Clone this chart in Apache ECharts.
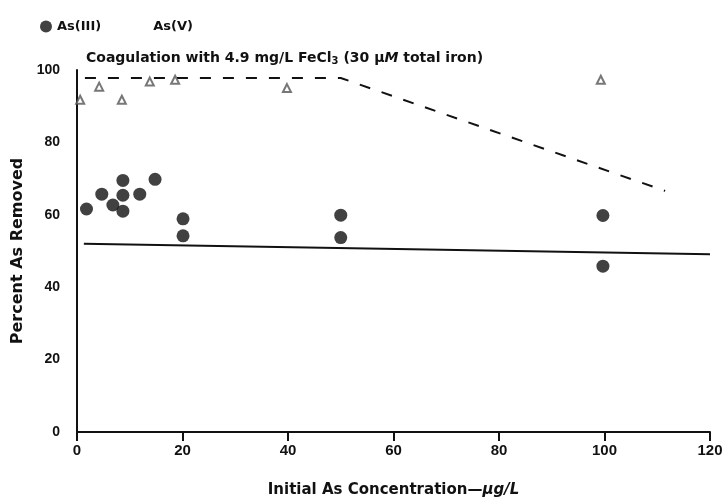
<!DOCTYPE html>
<html>
<head>
<meta charset="utf-8">
<script src="https://cdn.jsdelivr.net/npm/echarts@6/dist/echarts.min.js"></script>
<style>html,body{margin:0;padding:0;background:#fff}#c{width:726px;height:503px}</style>
</head>
<body>
<div id="c"></div>
<script>
// As(III) measured points
var as3X = [1.8, 4.7, 6.8, 8.7, 8.7, 8.7, 11.9, 14.8, 20.1, 20.1, 50, 50, 99.7, 99.7];
var as3Y = [61.6, 65.7, 62.7, 69.5, 65.4, 61.0, 65.7, 69.8, 58.9, 54.2, 59.9, 53.7, 59.8, 45.8];
// As(V) measured points
var as5X = [0.6, 4.2, 8.5, 13.8, 18.6, 39.8, 99.3];
var as5Y = [91.8, 95.4, 91.8, 96.8, 97.3, 95.0, 97.3];
// fitted lines
var fit3X = [1.3, 120];
var fit3Y = [52.0, 49.1];
var fit5X = [1.5, 50, 111.5];
var fit5Y = [97.8, 97.8, 66.6];
var xTicks = [0, 20, 40, 60, 80, 100, 120];
var yTicks = [0, 20, 40, 60, 80, 100];

function zip(a, b) { return a.map(function (v, i) { return [v, b[i]]; }); }

var FONT = 'Liberation Sans, Arial, sans-serif';
var WIDE = 'DejaVu Sans, Verdana, sans-serif';
var chart = echarts.init(document.getElementById('c'), null, { renderer: 'canvas' });
chart.setOption({
  animation: false,
  backgroundColor: '#fff',
  textStyle: { fontFamily: FONT, color: '#111' },
  title: {
    left: 81, top: 45,
    text: '{a|Coagulation with 4.9 mg/L FeCl}{s|3}{a| (30 μ}{i|M}{a| total iron)}',
    textStyle: {
      rich: {
        a: { fontFamily: WIDE, fontWeight: 'bold', fontSize: 14, color: '#111' },
        s: { fontFamily: WIDE, fontWeight: 'bold', fontSize: 10, color: '#111', padding: [6, 0, 0, 0] },
        i: { fontFamily: WIDE, fontWeight: 'bold', fontStyle: 'italic', fontSize: 14, color: '#111' }
      }
    }
  },
  legend: {
    left: 35, top: 15, itemGap: 35, itemWidth: 12, itemHeight: 12,
    textStyle: { fontFamily: WIDE, fontWeight: 'bold', fontSize: 13, color: '#111' },
    data: [
      { name: 'As(III)', icon: 'circle' },
      { name: 'As(V)', icon: 'none' }
    ]
  },
  grid: { left: 77, right: 16, top: 70, bottom: 59, containLabel: false },
  xAxis: {
    type: 'value', min: 0, max: 120, interval: 20,
    name: 'Initial As Concentration—{i|μg/L}',
    nameLocation: 'middle', nameGap: 51,
    nameTextStyle: {
      fontFamily: WIDE, fontWeight: 'bold', fontSize: 15, color: '#111',
      rich: { i: { fontFamily: WIDE, fontWeight: 'bold', fontStyle: 'italic', fontSize: 15, color: '#111' } }
    },
    axisLine: { show: true, lineStyle: { color: '#111', width: 2 } },
    axisTick: { show: true, length: 9, lineStyle: { color: '#111', width: 2 } },
    axisLabel: {
      fontFamily: FONT, fontWeight: 'bold', fontSize: 15, color: '#111', margin: 11,
      formatter: function (v) { return xTicks.indexOf(v) >= 0 ? String(v) : ''; }
    },
    splitLine: { show: false }
  },
  yAxis: {
    type: 'value', min: 0, max: 100, interval: 20,
    name: 'Percent As Removed',
    nameLocation: 'middle', nameGap: 47,
    nameTextStyle: { fontFamily: WIDE, fontWeight: 'bold', fontSize: 16, color: '#111' },
    axisLine: { show: true, lineStyle: { color: '#111', width: 2 } },
    axisTick: { show: false },
    axisLabel: {
      fontFamily: FONT, fontWeight: 'bold', fontSize: 14, color: '#111', margin: 17,
      formatter: function (v) { return yTicks.indexOf(v) >= 0 ? String(v) : ''; }
    },
    splitLine: { show: false }
  },
  series: [
    {
      name: 'As(III)', type: 'scatter', data: zip(as3X, as3Y),
      symbol: 'circle', symbolSize: 13,
      itemStyle: { color: '#111' }, z: 5
    },
    {
      name: 'As(V)', type: 'scatter', data: zip(as5X, as5Y),
      symbol: 'emptyTriangle', symbolSize: 8,
      itemStyle: { color: '#555', borderColor: '#555', borderWidth: 1.5 }, z: 5
    },
    {
      name: 'fit3', type: 'line', data: zip(fit3X, fit3Y),
      symbol: 'none', lineStyle: { color: '#111', width: 2 }
    },
    {
      name: 'fit5', type: 'line', data: zip(fit5X, fit5Y),
      symbol: 'none', lineStyle: { color: '#111', width: 2, type: [11, 12] }
    }
  ]
});
</script>
</body>
</html>
